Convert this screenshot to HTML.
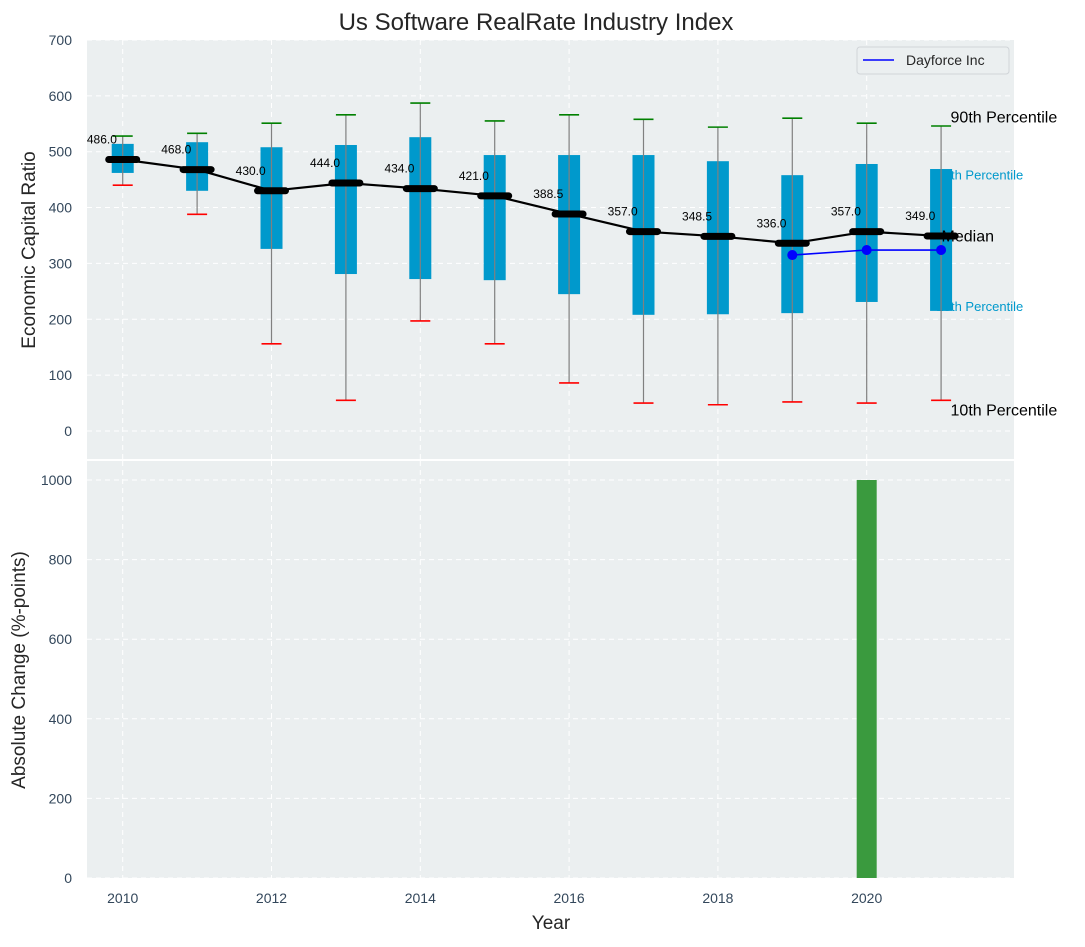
<!DOCTYPE html>
<html><head><meta charset="utf-8"><style>
body{margin:0;background:#fff;}
svg{font-family:"Liberation Sans","DejaVu Sans",sans-serif;}
</style></head><body>
<svg id="c" width="1085" height="942" viewBox="0 0 1085 942" xmlns="http://www.w3.org/2000/svg"></svg>
<script>
const years=[2010,2011,2012,2013,2014,2015,2016,2017,2018,2019,2020,2021];
const p10=[440,388,156,55,197,156,86,50,47,52,50,55];
const q1=[462,430,326,281,272,270,245,208,209,211,231,215];
const med=[486,468,430,444,434,421,388.5,357,348.5,336,357,349];
const q3=[514,517,508,512,526,494,494,494,483,458,478,469];
const p90=[528,533,551,566,587,555,566,558,544,560,551,546];
const dfYears=[2019,2020,2021];
const dfVals=[315,324,324];
const chgYears=[2020];
const chgVals=[1000];
const yTicksTop=[0,100,200,300,400,500,600,700];
const yTicksBot=[0,200,400,600,800,1000];
const xTicks=[2010,2012,2014,2016,2018,2020];

const NS="http://www.w3.org/2000/svg";
const svg=document.getElementById('c');
function el(t,a,p){const e=document.createElementNS(NS,t);for(const k in a)e.setAttribute(k,a[k]);(p||svg).appendChild(e);return e;}
const X0=87,X1=1014;
const x=v=>X0+(v-2009.52)/(2021.98-2009.52)*(X1-X0);
const yt=v=>431-v*0.5586;
const yb=v=>878-v*0.398;

let t=el('text',{x:536,y:30,'text-anchor':'middle','font-size':24,fill:'#262626'});t.textContent='Us Software RealRate Industry Index';


let r=el('rect',{x:X0,y:40,width:X1-X0,height:419,fill:'#ebeff0'});

r=el('rect',{x:X0,y:461,width:X1-X0,height:417,fill:'#ebeff0'});


yTicksTop.forEach(v=>{
  el('line',{x1:X0,x2:X1,y1:yt(v),y2:yt(v),stroke:'#fff','stroke-dasharray':'5,4','stroke-width':1});
  const l=el('text',{x:72,y:yt(v)+5,'text-anchor':'end','font-size':14,fill:'#33475b'});l.textContent=v;
  
});
yTicksBot.forEach(v=>{
  el('line',{x1:X0,x2:X1,y1:yb(v),y2:yb(v),stroke:'#fff','stroke-dasharray':'5,4','stroke-width':1});
  const l=el('text',{x:72,y:yb(v)+5,'text-anchor':'end','font-size':14,fill:'#33475b'});l.textContent=v;
  
});
xTicks.forEach(v=>{
  el('line',{x1:x(v),x2:x(v),y1:40,y2:459,stroke:'#fff','stroke-dasharray':'5,4'});
  el('line',{x1:x(v),x2:x(v),y1:461,y2:878,stroke:'#fff','stroke-dasharray':'5,4'});
  const l=el('text',{x:x(v),y:903,'text-anchor':'middle','font-size':14,fill:'#33475b'});l.textContent=v;
  
});

t=el('text',{x:35,y:250,'text-anchor':'middle','font-size':19,fill:'#262626',transform:'rotate(-90 35 250)'});t.textContent='Economic Capital Ratio';

t=el('text',{x:25,y:670,'text-anchor':'middle','font-size':19,fill:'#262626',transform:'rotate(-90 25 670)'});t.textContent='Absolute Change (%-points)';

t=el('text',{x:551,y:929,'text-anchor':'middle','font-size':19,fill:'#262626'});t.textContent='Year';


const last=years.length-1, lx=x(2021.1);
[['90th Percentile',p90[last]+15,'#000',16,'label-90th',lx+2],['75th Percentile',q3[last]-10,'#0099cc',13,'label-75th',lx-12],['25th Percentile',q1[last]+9,'#0099cc',13,'label-25th',lx-12],['10th Percentile',p10[last]-18,'#000',16,'label-10th',lx+2]].forEach(a=>{
  const l=el('text',{x:a[5],y:yt(a[1])+5,'font-size':a[3],fill:a[2]});l.textContent=a[0];
  
});

years.forEach((yr,i)=>{
  const cx=x(yr),hw=11;
  const g=el('g',{});
  
  el('rect',{x:cx-hw,y:yt(q3[i]),width:2*hw,height:yt(q1[i])-yt(q3[i]),fill:'#0099cc'},g);
  el('line',{x1:cx,x2:cx,y1:yt(p90[i]),y2:yt(p10[i]),stroke:'#808080','stroke-width':1.2},g);
  el('line',{x1:cx-10,x2:cx+10,y1:yt(p90[i]),y2:yt(p90[i]),stroke:'green','stroke-width':1.6},g);
  el('line',{x1:cx-10,x2:cx+10,y1:yt(p10[i]),y2:yt(p10[i]),stroke:'red','stroke-width':1.6},g);
});
let pts=years.map((yr,i)=>x(yr)+','+yt(med[i])).join(' ');
let pl=el('polyline',{points:pts,fill:'none',stroke:'#000','stroke-width':2.2});

years.forEach((yr,i)=>{
  const m=el('line',{x1:x(yr)-14,x2:x(yr)+14,y1:yt(med[i]),y2:yt(med[i]),stroke:'#000','stroke-width':7,'stroke-linecap':'round'});
  
  const l=el('text',{x:x(yr-0.28),y:yt(med[i])-16,'text-anchor':'middle','font-size':12,fill:'#000'});l.textContent=med[i].toFixed(1);
  
});
pl=el('polyline',{points:dfYears.map((yr,i)=>x(yr)+','+yt(dfVals[i])).join(' '),fill:'none',stroke:'blue','stroke-width':1.6});

dfYears.forEach((yr,i)=>{const c=el('circle',{cx:x(yr),cy:yt(dfVals[i]),r:5,fill:'blue'});
  });

t=el('text',{x:lx-7,y:yt(med[last]-1)+5,'font-size':16,fill:'#000'});t.textContent='Median';


chgYears.forEach((yr,i)=>{
  const b=el('rect',{x:x(yr)-10,y:yb(chgVals[i]),width:20,height:yb(0)-yb(chgVals[i]),fill:'#3a9a3e'});
  
});

const lg=el('g',{});
el('rect',{x:857,y:47,width:152,height:27,rx:3,fill:'#ebeff0',stroke:'#d0d4d8'},lg);
el('line',{x1:863,x2:894,y1:60,y2:60,stroke:'blue','stroke-width':1.6},lg);
t=el('text',{x:906,y:65,'font-size':14,fill:'#262626'},lg);t.textContent='Dayforce Inc';

</script>
</body></html>
